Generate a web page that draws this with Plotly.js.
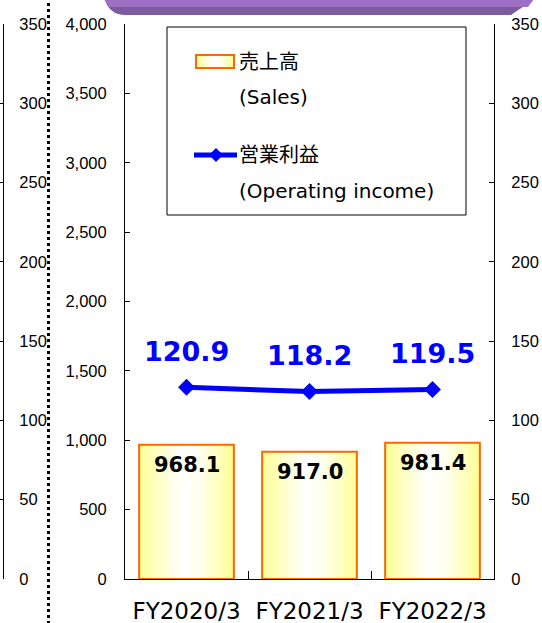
<!DOCTYPE html>
<html>
<head>
<meta charset="utf-8">
<script src="https://cdn.plot.ly/plotly-3.0.1.min.js"></script>
<style>
  html, body { margin: 0; padding: 0; background: #ffffff; }
  #chart { width: 542px; height: 623px; }
</style>
</head>
<body>
<div id="chart"></div>
<script>
// ---- data ----
const categories = ['FY2020/3', 'FY2021/3', 'FY2022/3'];
const salesValues = [968.1, 917.0, 981.4];
const operatingIncome = [120.9, 118.2, 119.5];
const salesLabels = ['968.1', '917.0', '981.4'];
const incomeLabels = ['120.9', '118.2', '119.5'];
const legendNames = ['売上高', '(Sales)', '営業利益', '(Operating income)'];

// ---- layout helpers (pixel -> paper) ----
const W = 542, H = 623, T = 24, B = 44;
const plotH = H - T - B;
const PX = x => x / W;
const PY = y => (H - B - y) / plotH;

const axisFont = { family: 'Liberation Sans, Arial, sans-serif', size: 16.5, color: '#000' };

const traces = [
  {
    type: 'bar', x: categories, y: salesValues, width: 0.77,
    marker: { color: '#FFFFA0', line: { color: '#FF6600', width: 2 } },
    hoverinfo: 'skip', showlegend: false
  },
  {
    type: 'scatter', mode: 'lines+markers', x: categories, y: operatingIncome, yaxis: 'y2',
    line: { color: '#0000FF', width: 5 },
    marker: { symbol: 'diamond', size: 13, color: '#0000FF' },
    hoverinfo: 'skip', showlegend: false, cliponaxis: false
  },
  { type: 'scatter', x: [], y: [], yaxis: 'y3', showlegend: false, hoverinfo: 'skip' }
];

const annotations = [];
categories.forEach((c, i) => {
  annotations.push({
    x: c, y: operatingIncome[i], xref: 'x', yref: 'y2', yshift: 36,
    text: '<b>' + incomeLabels[i] + '</b>', showarrow: false,
    font: { family: 'DejaVu Sans, Verdana, sans-serif', size: 27, color: '#0000FF' }
  });
  annotations.push({
    x: c, y: salesValues[i], xref: 'x', yref: 'y', yshift: -20,
    text: '<b>' + salesLabels[i] + '</b>', showarrow: false,
    font: { family: 'DejaVu Sans, Verdana, sans-serif', size: 21, color: '#000' }
  });
});

const legendY = [62, 97, 155, 191];
legendNames.forEach((n, i) => {
  annotations.push({
    x: PX(237), y: PY(legendY[i]), xref: 'paper', yref: 'paper',
    xanchor: 'left', yanchor: 'middle', showarrow: false, text: n,
    font: { family: 'DejaVu Sans, Noto Sans CJK JP, sans-serif', size: 20, color: '#000' }
  });
});

const shapes = [
  // header band (dark)
  { type: 'path', xref: 'paper', yref: 'paper', layer: 'above',
    path: `M ${PX(105)},${PY(0)} L ${PX(533)},${PY(0)} L ${PX(511)},${PY(15)} L ${PX(125)},${PY(15)} Q ${PX(110)},${PY(15)} ${PX(105)},${PY(0)} Z`,
    fillcolor: '#7D5C9E', line: { width: 0 } },
  // header band (light)
  { type: 'path', xref: 'paper', yref: 'paper', layer: 'above',
    path: `M ${PX(104)},${PY(-1)} L ${PX(534)},${PY(-1)} L ${PX(528)},${PY(7)} L ${PX(108.5)},${PY(7)} Z`,
    fillcolor: '#9D70C4', line: { width: 0 } },
  // dotted separator
  { type: 'line', xref: 'paper', yref: 'paper', layer: 'above',
    x0: PX(48.5), x1: PX(48.5), y0: PY(-3), y1: PY(626),
    line: { color: '#000', width: 3, dash: 'dot' } },
  // legend box
  { type: 'rect', xref: 'paper', yref: 'paper', layer: 'above',
    x0: PX(167), x1: PX(466), y0: PY(215), y1: PY(27),
    line: { color: '#000', width: 1 }, fillcolor: 'rgba(0,0,0,0)' },
  // legend bar symbol
  { type: 'rect', xref: 'paper', yref: 'paper', layer: 'above',
    x0: PX(196), x1: PX(234), y0: PY(68), y1: PY(55),
    line: { color: '#FF6600', width: 2 }, fillcolor: '#FFFFA0' },
  // legend line symbol
  { type: 'line', xref: 'paper', yref: 'paper', layer: 'above',
    x0: PX(194), x1: PX(237), y0: PY(155), y1: PY(155),
    line: { color: '#0000FF', width: 5 } },
  // legend diamond
  { type: 'path', xref: 'paper', yref: 'paper', layer: 'above',
    path: `M ${PX(209)},${PY(155)} L ${PX(216)},${PY(148)} L ${PX(223)},${PY(155)} L ${PX(216)},${PY(162)} Z`,
    fillcolor: '#0000FF', line: { width: 0 } }
];

const layout = {
  width: W, height: H,
  margin: { l: 0, r: 0, t: T, b: B },
  paper_bgcolor: '#ffffff', plot_bgcolor: 'rgba(0,0,0,0)',
  showlegend: false,
  xaxis: {
    domain: [PX(125), PX(494)], type: 'category', range: [-0.5, 2.5],
    showline: true, linecolor: '#000', linewidth: 1,
    ticks: 'inside', tickson: 'boundaries', ticklen: 8, tickcolor: '#000',
    tickfont: { family: 'DejaVu Sans, Verdana, sans-serif', size: 23, color: '#000' },
    ticklabelstandoff: 11, showgrid: false, zeroline: false, fixedrange: true
  },
  yaxis: {
    range: [0, 4000], dtick: 500, tickformat: ',d',
    showline: true, linecolor: '#000', linewidth: 1,
    ticks: 'inside', ticklen: 5, tickcolor: '#000',
    tickfont: axisFont, ticklabelstandoff: 14,
    showgrid: false, zeroline: false, fixedrange: true
  },
  yaxis2: {
    overlaying: 'y', side: 'right', anchor: 'x',
    range: [0, 350], dtick: 50,
    showline: true, linecolor: '#000', linewidth: 1,
    ticks: 'inside', ticklen: 5, tickcolor: '#000',
    tickfont: axisFont, ticklabelstandoff: 13,
    showgrid: false, zeroline: false, fixedrange: true
  },
  yaxis3: {
    overlaying: 'y', side: 'right', anchor: 'free', position: PX(3),
    range: [0, 350], dtick: 50,
    showline: true, linecolor: '#000', linewidth: 1,
    ticks: 'inside', ticklen: 3, tickcolor: '#000',
    tickfont: axisFont, ticklabelstandoff: 12,
    showgrid: false, zeroline: false, fixedrange: true
  },
  shapes: shapes,
  annotations: annotations
};

function applyGradient(gd) {
  const svg = gd.querySelector('svg.main-svg');
  if (!svg) return;
  const ns = 'http://www.w3.org/2000/svg';
  let defs = svg.querySelector('defs');
  if (!defs) { defs = document.createElementNS(ns, 'defs'); svg.insertBefore(defs, svg.firstChild); }
  const grad = document.createElementNS(ns, 'linearGradient');
  grad.setAttribute('id', 'barGrad');
  grad.setAttribute('x1', '0'); grad.setAttribute('y1', '0');
  grad.setAttribute('x2', '1'); grad.setAttribute('y2', '0');
  [['0', '#FFFF96'], ['0.45', '#FFFFFF'], ['0.62', '#FFFFF2'], ['1', '#FFFF96']].forEach(([o, c]) => {
    const s = document.createElementNS(ns, 'stop');
    s.setAttribute('offset', o); s.setAttribute('stop-color', c);
    grad.appendChild(s);
  });
  defs.appendChild(grad);
  gd.querySelectorAll('.barlayer .point path').forEach(p => { p.style.fill = 'url(#barGrad)'; });
  gd.querySelectorAll('.shapelayer path[data-index="4"]').forEach(p => { p.style.fill = 'url(#barGrad)'; });
}

Plotly.newPlot('chart', traces, layout, { displayModeBar: false, staticPlot: true })
  .then(applyGradient);
</script>
</body>
</html>
